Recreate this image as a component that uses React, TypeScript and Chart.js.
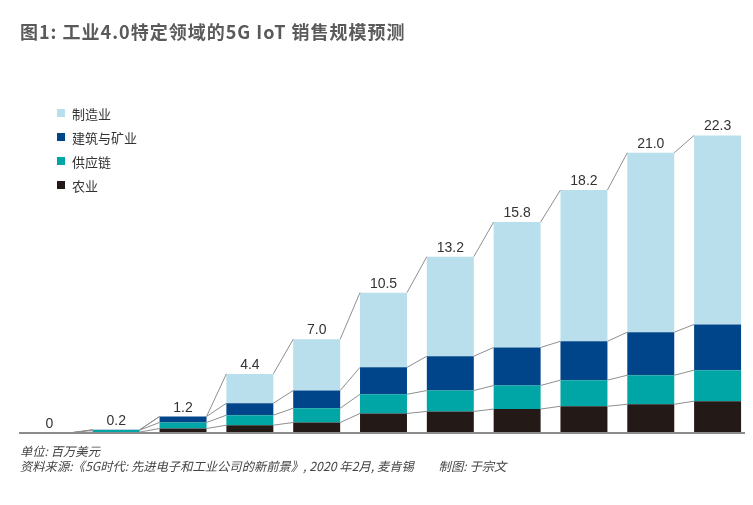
import React, { useEffect, useRef } from "react";
import { Chart, registerables } from "chart.js";

Chart.register(...registerables);

const categories = ["2020", "2021", "2022", "2023", "2024", "2025", "2026", "2027", "2028", "2029", "2030"];
const agriculture = [0, 0.03, 0.3, 0.55, 0.75, 1.43, 1.58, 1.76, 1.97, 2.12, 2.35];
const supplyChain = [0, 0.15, 0.45, 0.75, 1.07, 1.44, 1.57, 1.77, 1.96, 2.18, 2.33];
const construction = [0, 0.02, 0.45, 0.9, 1.33, 2.02, 2.58, 2.85, 2.92, 3.23, 3.43];
const manufacturing = [0, 0, 0, 2.2, 3.85, 5.61, 7.47, 9.42, 11.35, 13.47, 14.19];
const totalLabels = ["0", "0.2", "1.2", "4.4", "7.0", "10.5", "13.2", "15.8", "18.2", "21.0", "22.3"];

const seriesNames = ["农业", "供应链", "建筑与矿业", "制造业"];
const seriesColors = ["#231916", "#00a5a5", "#004589", "#b9dfec"];

const connectorPlugin = {
  id: "connectors",
  afterDatasetsDraw(chart: any) {
    const ctx = chart.ctx;
    ctx.save();
    ctx.strokeStyle = "#8e8e8e";
    ctx.lineWidth = 1;
    const n = chart.data.labels.length;
    chart.data.datasets.forEach((_: any, d: number) => {
      const meta = chart.getDatasetMeta(d);
      for (let i = 0; i < n - 1; i++) {
        const a = meta.data[i];
        const b = meta.data[i + 1];
        ctx.beginPath();
        ctx.moveTo(a.x + a.width / 2, a.y);
        ctx.lineTo(b.x - b.width / 2, b.y);
        ctx.stroke();
      }
    });
    // baseline axis
    const y0 = chart.scales.y.getPixelForValue(0);
    ctx.strokeStyle = "#8c8c8c";
    ctx.lineWidth = 2;
    ctx.beginPath();
    ctx.moveTo(chart.chartArea.left + 3, y0 + 0.5);
    ctx.lineTo(chart.chartArea.right - 6, y0 + 0.5);
    ctx.stroke();
    // totals
    const top = chart.getDatasetMeta(chart.data.datasets.length - 1);
    ctx.fillStyle = "#333333";
    ctx.font = "14px 'Liberation Sans', Arial, sans-serif";
    ctx.textAlign = "center";
    ctx.textBaseline = "alphabetic";
    totalLabels.forEach((t, i) => {
      const el = top.data[i];
      ctx.fillText(t, el.x, el.y - 5);
    });
    ctx.restore();
  },
};

export default function App() {
  const ref = useRef<HTMLCanvasElement>(null);
  useEffect(() => {
    if (!ref.current) return;
    const values = [agriculture, supplyChain, construction, manufacturing];
    const chart = new Chart(ref.current, {
      type: "bar",
      data: {
        labels: categories,
        datasets: values.map((v, k) => ({
          label: seriesNames[k],
          data: v,
          backgroundColor: seriesColors[k],
          borderWidth: 0,
          barPercentage: 0.703,
          categoryPercentage: 1,
        })),
      },
      options: {
        animation: false,
        responsive: false,
        maintainAspectRatio: false,
        layout: { padding: { left: 16, right: 2, top: 112.8, bottom: 72.5 } },
        plugins: { legend: { display: false }, tooltip: { enabled: false } },
        scales: {
          x: { stacked: true, display: false },
          y: { stacked: true, display: false, min: 0, max: 24 },
        },
      },
      plugins: [connectorPlugin],
    });
    return () => chart.destroy();
  }, []);

  const legendOrder = [3, 2, 1, 0];
  return (
    <div style={{ position: "absolute", left: 0, top: 0, width: 753, height: 505, background: "#fff", overflow: "hidden" }}>
      <canvas ref={ref} width={753} height={505} style={{ position: "absolute", left: 0, top: 0, width: 753, height: 505 }} />
      <div
        style={{
          position: "absolute",
          left: 20,
          top: 18,
          fontFamily: "'Noto Sans CJK SC', 'Noto Sans', sans-serif",
          fontWeight: 700,
          fontSize: 18,
          letterSpacing: 1,
          lineHeight: "26px",
          color: "#5a5a5a",
          whiteSpace: "nowrap",
        }}
      >
        图1: 工业4.0特定领域的5G IoT 销售规模预测
      </div>
      {legendOrder.map((k, j) => (
        <div
          key={k}
          style={{
            position: "absolute",
            left: 57,
            top: 104 + j * 24,
            height: 18,
            display: "flex",
            alignItems: "center",
            fontFamily: "'Noto Sans CJK SC', sans-serif",
            fontSize: 13,
            color: "#333",
            whiteSpace: "nowrap",
          }}
        >
          <span style={{ display: "inline-block", width: 8, height: 8, background: seriesColors[k], marginRight: 7 }} />
          {seriesNames[k]}
        </div>
      ))}
      <div
        style={{
          position: "absolute",
          left: 20,
          top: 444,
          fontFamily: "'Noto Sans CJK SC', sans-serif",
          fontStyle: "italic",
          fontSize: 12.3,
          lineHeight: "15px",
          color: "#444",
          whiteSpace: "pre",
        }}
      >
        {"单位: 百万美元\n资料来源:《5G时代: 先进电子和工业公司的新前景》, 2020 年2月, 麦肯锡         制图: 于宗文"}
      </div>
    </div>
  );
}
